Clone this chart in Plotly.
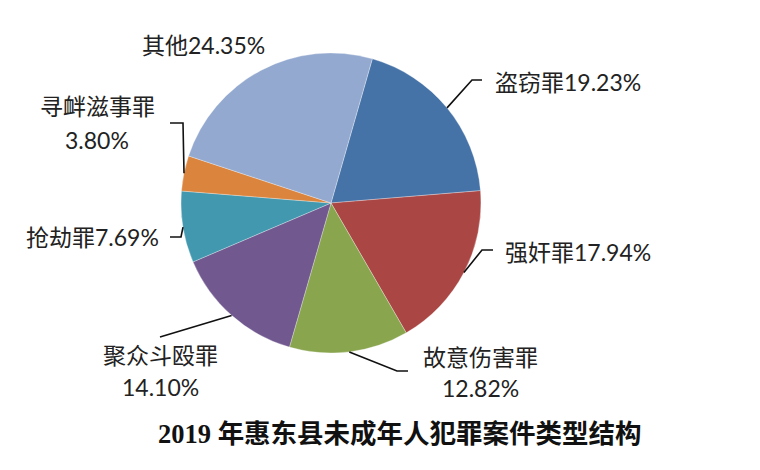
import math
import plotly.graph_objects as go

# ---- data ----
categories = ["盗窃罪", "强奸罪", "故意伤害罪", "聚众斗殴罪", "抢劫罪", "寻衅滋事罪", "其他"]
shares = [19.23, 17.94, 12.82, 14.10, 7.69, 3.80, 24.35]
title_text = "2019 年惠东县未成年人犯罪案件类型结构"

# ---- style ----
colors = ["#4572A7", "#AA4643", "#89A54E", "#71588F", "#4198AF", "#DB843D", "#93A9CF"]
W, H = 760, 470
CX, CY, R = 331, 203, 150
ROT = 16
label_font = dict(family="Lato, 'Noto Sans CJK SC'", size=23, color="#222222")

# label placement: (two_lines, center x, first line y, line gap, leader start, leader elbow)
label_layout = [
    (False, 568, 82, 0, (482, 80), (472, 80)),
    (False, 578, 252, 0, (493, 250), (482, 250)),
    (True, 480, 357, 31, (408, 371), (397, 371)),
    (True, 160, 355, 32, (160, 337), (160, 337)),
    (False, 92, 237, 0, (170, 237), (181, 237)),
    (True, 97, 106, 34, (170, 123), (183, 123)),
    (False, 203, 45, 0, None, None),
]

fig = go.Figure()
fig.add_trace(go.Pie(
    labels=categories, values=shares, sort=False, direction="clockwise",
    rotation=ROT, textinfo="none", hoverinfo="skip", showlegend=False,
    marker=dict(colors=colors, line=dict(color="rgba(255,255,255,0.5)", width=0.6)),
    domain=dict(x=[(CX - R) / W, (CX + R) / W], y=[1 - (CY + R) / H, 1 - (CY - R) / H]),
))

# hidden pixel-space axes for labels and leader lines
fig.update_xaxes(range=[0, W], visible=False, fixedrange=True)
fig.update_yaxes(range=[H, 0], visible=False, fixedrange=True)

total = sum(shares)
cum = 0.0
for cat, val, lay in zip(categories, shares, label_layout):
    mid = ROT + (cum + val / 2) / total * 360
    cum += val
    ex = CX + R * math.sin(math.radians(mid))
    ey = CY - R * math.cos(math.radians(mid))
    two, tx, ty, gap, start, elbow = lay
    pct = f"{val:.2f}%"
    if two:
        fig.add_annotation(x=tx, y=ty, text=cat, showarrow=False, font=label_font,
                           xanchor="center", yanchor="middle")
        fig.add_annotation(x=tx, y=ty + gap, text=pct, showarrow=False, font=label_font,
                           xanchor="center", yanchor="middle")
    else:
        fig.add_annotation(x=tx, y=ty, text=cat + pct, showarrow=False, font=label_font,
                           xanchor="center", yanchor="middle")
    if start is not None:
        path = f"M {start[0]},{start[1]} L {elbow[0]},{elbow[1]} L {ex:.1f},{ey:.1f}"
        fig.add_shape(type="path", path=path, xref="x", yref="y",
                      line=dict(color="#111111", width=1.6))

fig.add_annotation(x=400, y=434, text=title_text, showarrow=False,
                   font=dict(family="'Liberation Serif', 'Noto Sans CJK SC'", size=26.5,
                             color="#111111", weight="bold"),
                   xanchor="center", yanchor="middle")

fig.update_layout(width=W, height=H, margin=dict(l=0, r=0, t=0, b=0),
                  paper_bgcolor="white", plot_bgcolor="white")
fig.write_html("out.html")
